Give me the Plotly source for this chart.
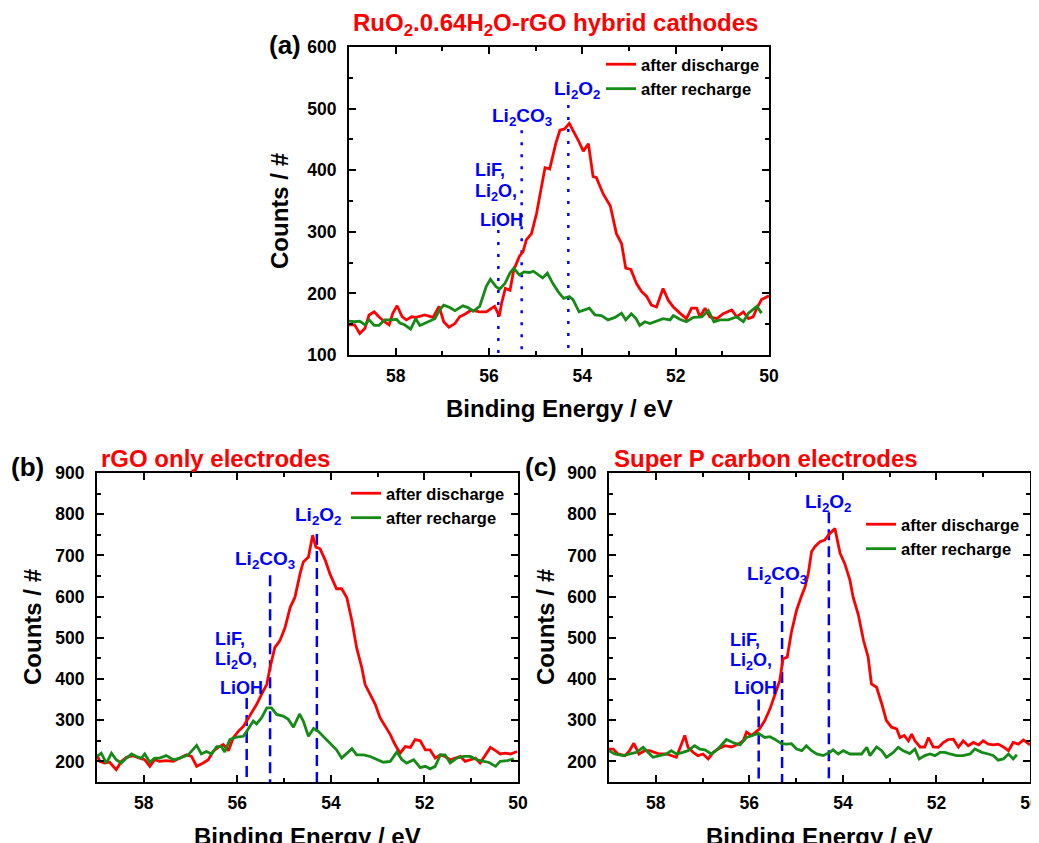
import plotly.graph_objects as go

# ---------------- data ----------------
# Panel (a) RuO2.0.64H2O-rGO
a_dis_x = [59.00,58.88,58.77,58.66,58.57,58.46,58.36,58.24,58.14,58.06,57.97,57.86,57.77,57.66,57.56,57.38,57.20,57.07,56.97,56.86,56.73,56.63,56.50,56.38,56.20,56.06,55.88,55.78,55.73,55.65,55.55,55.47,55.35,55.27,55.20,55.09,54.98,54.88,54.80,54.70,54.57,54.48,54.38,54.28,54.20,54.09,53.98,53.87,53.77,53.70,53.55,53.40,53.27,53.16,53.07,52.96,52.84,52.73,52.62,52.52,52.41,52.27,52.16,52.05,51.91,51.77,51.66,51.55,51.48,51.37,51.27,51.12,50.98,50.80,50.69,50.55,50.44,50.34,50.26,50.16,50.00]
a_dis_y = [149,149,135,143,165,170,162,154,149,168,180,162,157,162,161,165,161,179,154,145,151,162,167,173,170,170,179,163,184,208,205,238,260,268,287,297,330,373,404,402,443,465,467,476,465,449,431,443,390,388,361,342,297,281,241,239,216,203,195,181,178,208,189,178,168,159,176,176,162,176,162,159,167,173,162,170,159,162,176,190,196]
a_rec_x = [59.00,58.88,58.77,58.66,58.57,58.46,58.36,58.24,58.09,57.98,57.91,57.81,57.68,57.57,57.48,57.34,57.16,57.06,56.97,56.84,56.73,56.56,56.45,56.34,56.20,56.06,55.97,55.85,55.77,55.66,55.55,55.47,55.35,55.25,55.13,55.05,54.95,54.85,54.75,54.63,54.52,54.40,54.28,54.20,54.07,53.95,53.85,53.73,53.59,53.45,53.30,53.16,53.07,52.95,52.85,52.77,52.66,52.55,52.41,52.27,52.12,52.05,51.91,51.77,51.62,51.44,51.30,51.18,51.05,50.87,50.69,50.55,50.44,50.34,50.26,50.16]
a_rec_y = [155,154,155,149,157,148,148,157,157,158,152,149,142,159,148,153,159,173,181,177,172,180,177,171,179,211,223,211,207,216,233,241,230,235,234,236,230,225,233,216,203,192,195,190,170,173,176,165,164,157,161,168,157,167,159,148,154,151,155,159,157,164,158,154,161,162,172,154,157,157,162,154,168,174,179,168]

# Panel (b) rGO only
b_dis_x = [59.00,58.94,58.84,58.73,58.59,58.48,58.37,58.23,58.09,57.98,57.87,57.77,57.66,57.52,57.37,57.23,57.09,56.98,56.87,56.73,56.62,56.52,56.41,56.30,56.19,56.09,55.98,55.87,55.80,55.70,55.59,55.48,55.37,55.30,55.20,55.09,54.98,54.87,54.77,54.66,54.59,54.48,54.39,54.32,54.23,54.12,54.02,53.88,53.77,53.66,53.55,53.45,53.34,53.27,53.16,53.05,52.95,52.84,52.73,52.63,52.52,52.41,52.30,52.20,52.09,51.98,51.88,51.77,51.66,51.56,51.45,51.34,51.23,51.13,51.02,50.91,50.81,50.70,50.59,50.48,50.38,50.27,50.16,50.02]
b_dis_y = [216,200,196,198,180,200,210,214,208,204,188,204,200,202,200,208,216,212,188,196,204,224,234,241,226,257,273,285,298,318,338,363,387,428,476,493,525,574,598,655,684,696,749,720,716,688,655,619,619,598,541,476,428,387,363,338,306,285,265,241,220,236,234,253,250,228,228,208,216,212,204,208,212,200,204,208,196,216,234,226,218,220,218,224]
b_rec_x = [59.00,58.91,58.80,58.69,58.59,58.48,58.37,58.26,58.16,58.05,57.98,57.87,57.77,57.66,57.52,57.37,57.23,57.05,56.87,56.77,56.66,56.55,56.44,56.34,56.27,56.16,56.02,55.87,55.80,55.66,55.59,55.48,55.37,55.27,55.16,55.02,54.91,54.80,54.67,54.59,54.48,54.37,54.27,54.16,54.02,53.88,53.77,53.66,53.55,53.45,53.30,53.16,53.02,52.88,52.73,52.59,52.48,52.38,52.23,52.09,51.98,51.88,51.77,51.66,51.56,51.45,51.31,51.16,51.02,50.88,50.73,50.63,50.48,50.38,50.23,50.09]
b_rec_y = [212,220,196,220,204,196,208,218,212,208,218,198,208,208,214,204,208,216,239,218,224,218,236,236,223,253,259,261,273,298,291,306,330,330,314,310,302,283,315,298,261,280,273,261,245,228,208,220,231,216,216,212,204,198,200,223,204,196,204,185,188,182,188,216,216,196,208,212,212,204,200,198,188,200,202,206]

# Panel (c) Super P carbon
c_dis_x = [59.00,58.91,58.81,58.66,58.56,58.47,58.36,58.24,58.13,58.02,57.92,57.77,57.67,57.56,57.45,57.38,57.31,57.20,57.10,56.99,56.88,56.77,56.67,56.52,56.38,56.24,56.13,56.06,55.95,55.85,55.78,55.67,55.56,55.46,55.35,55.28,55.19,55.10,54.99,54.88,54.81,54.74,54.67,54.60,54.49,54.39,54.28,54.17,54.06,53.96,53.85,53.78,53.67,53.56,53.46,53.39,53.28,53.17,53.07,52.96,52.85,52.78,52.69,52.60,52.53,52.46,52.35,52.25,52.17,52.07,51.96,51.85,51.75,51.64,51.53,51.43,51.32,51.21,51.10,51.00,50.89,50.78,50.68,50.57,50.46,50.36,50.25,50.14,50.00]
c_dis_y = [230,230,218,214,226,244,218,226,226,222,218,218,214,210,242,263,234,222,214,218,206,222,230,238,235,242,250,271,263,273,279,299,327,360,396,449,453,514,567,603,623,656,709,721,733,737,753,765,705,680,640,598,556,494,453,388,380,340,299,283,279,258,263,250,266,250,235,235,258,235,234,246,253,254,235,250,238,246,240,250,242,240,242,235,226,246,242,252,240]
c_rec_x = [59.00,58.88,58.70,58.56,58.42,58.27,58.17,58.06,57.92,57.77,57.67,57.56,57.42,57.31,57.17,57.06,56.95,56.81,56.67,56.49,56.35,56.20,56.06,55.92,55.81,55.67,55.56,55.46,55.31,55.21,55.10,54.99,54.88,54.78,54.67,54.56,54.42,54.28,54.21,54.10,53.99,53.85,53.71,53.60,53.49,53.42,53.28,53.17,53.07,52.92,52.82,52.71,52.57,52.46,52.37,52.25,52.14,52.03,51.92,51.82,51.71,51.57,51.43,51.28,51.18,51.03,50.89,50.78,50.68,50.57,50.46,50.36,50.28]
c_rec_y = [226,218,214,218,222,234,222,210,214,218,226,218,222,226,238,230,228,218,230,253,246,240,258,263,268,258,260,254,243,242,243,230,226,238,226,218,214,222,228,218,226,218,219,218,234,214,235,226,210,222,234,226,219,230,206,214,218,214,222,222,218,214,214,218,230,222,218,214,203,206,218,206,216]

# reference peak positions (eV) and line heights
ref_pos = [55.8, 55.3, 54.3]
a_line_top = [303, 465, 506]
b_line_top = [354, 652, 752]
c_line_top = [350, 623, 805]

x_ticks = [58, 56, 54, 52, 50]
a_y_range = [100, 600]
bc_y_range = [150, 900]

RED = "#ff0000"
GREEN = "#168a16"
BLUE = "#0000ff"
FONT = "Liberation Sans"

# page is 1039x843; the html body adds an 8px margin, so the figure is 8px smaller
OFF = 8
W, H = 1039 - OFF, 843 - OFF
def px_x(p):
    return (p - OFF) / W
def px_y(p):
    return 1 - (p - OFF) / H

fig = go.Figure()

panels = [
    dict(xa="x", ya="y", leg="legend", dis=(a_dis_x, a_dis_y), rec=(a_rec_x, a_rec_y),
         tops=a_line_top, yb=a_y_range[0], dash="3px,9px"),
    dict(xa="x2", ya="y2", leg="legend2", dis=(b_dis_x, b_dis_y), rec=(b_rec_x, b_rec_y),
         tops=b_line_top, yb=bc_y_range[0], dash="11px,6px"),
    dict(xa="x3", ya="y3", leg="legend3", dis=(c_dis_x, c_dis_y), rec=(c_rec_x, c_rec_y),
         tops=c_line_top, yb=bc_y_range[0], dash="11px,6px"),
]

for p in panels:
    for pos, top in zip(ref_pos, p["tops"]):
        fig.add_trace(go.Scatter(x=[pos, pos], y=[top, p["yb"]], mode="lines",
                                 line=dict(color=BLUE, width=2.5, dash=p["dash"]),
                                 xaxis=p["xa"], yaxis=p["ya"], showlegend=False, hoverinfo="skip"))
    fig.add_trace(go.Scatter(x=p["dis"][0], y=p["dis"][1], mode="lines", name="after discharge",
                             line=dict(color=RED, width=2.8), xaxis=p["xa"], yaxis=p["ya"], legend=p["leg"]))
    fig.add_trace(go.Scatter(x=p["rec"][0], y=p["rec"][1], mode="lines", name="after recharge",
                             line=dict(color=GREEN, width=2.8), xaxis=p["xa"], yaxis=p["ya"], legend=p["leg"]))

tickfont = dict(family=FONT, size=17.5, color="black", weight="bold")

def xaxis(dom, anchor):
    return dict(domain=dom, anchor=anchor, range=[59, 50], tickvals=x_ticks,
                showline=True, linecolor="black", linewidth=2, mirror="ticks",
                ticks="inside", ticklen=7, tickwidth=2, tickcolor="black",
                minor=dict(ticks="inside", ticklen=4, tickwidth=2, tickcolor="black", dtick=1, tick0=50),
                showgrid=False, zeroline=False, tickfont=tickfont, ticklabelstandoff=4,
                ticklabeloverflow="allow", automargin=False)

def yaxis(dom, anchor, rng):
    return dict(domain=dom, anchor=anchor, range=rng, dtick=100, tick0=0,
                showline=True, linecolor="black", linewidth=2, mirror="ticks",
                ticks="inside", ticklen=7, tickwidth=2, tickcolor="black",
                minor=dict(ticks="inside", ticklen=4, tickwidth=2, tickcolor="black", dtick=50, tick0=0),
                showgrid=False, zeroline=False, tickfont=tickfont, ticklabelstandoff=7,
                ticklabeloverflow="allow", automargin=False)

a_xd = [px_x(349), px_x(769)]; a_yd = [px_y(355), px_y(47)]
b_xd = [px_x(97), px_x(518)];  b_yd = [px_y(782), px_y(473)]
c_xd = [px_x(609), px_x(1030)]; c_yd = b_yd

legfont = dict(family=FONT, size=16.5, color="black", weight="bold")
def legend(x, y):
    return dict(x=x, y=y, xanchor="left", yanchor="top", xref="paper", yref="paper",
                bgcolor="rgba(0,0,0,0)", font=legfont, itemwidth=30, tracegroupgap=0)

fig.update_layout(
    width=W, height=H, margin=dict(l=0, r=0, t=0, b=0, pad=0, autoexpand=False),
    paper_bgcolor="white", plot_bgcolor="white",
    xaxis=xaxis(a_xd, "y"), yaxis=yaxis(a_yd, "x", a_y_range),
    xaxis2=xaxis(b_xd, "y2"), yaxis2=yaxis(b_yd, "x2", bc_y_range),
    xaxis3=xaxis(c_xd, "y3"), yaxis3=yaxis(c_yd, "x3", bc_y_range),
    legend=legend(px_x(601), px_y(47)),
    legend2=legend(px_x(346), px_y(476)),
    legend3=legend(px_x(861), px_y(507)),
    showlegend=True,
)

ann = []
def text(x, y, t, size=22, color="black", xref="paper", yref="paper", xanchor="center", angle=0):
    ann.append(dict(x=x, y=y, xref=xref, yref=yref, text=t, showarrow=False, textangle=angle,
                    xanchor=xanchor, yanchor="middle",
                    font=dict(family=FONT, size=size, color=color, weight="bold")))

# panel letters and titles
text(px_x(285), px_y(45), "(a)", size=26)
text(px_x(27), px_y(467), "(b)", size=26)
text(px_x(541), px_y(467), "(c)", size=26)
text(px_x(351), px_y(25), "RuO<sub>2</sub>.0.64H<sub>2</sub>O-rGO hybrid cathodes", size=24, color=RED, xanchor="left")
text(px_x(99), px_y(459), "rGO only electrodes", size=24, color=RED, xanchor="left")
text(px_x(612), px_y(459), "Super P carbon electrodes", size=24, color=RED, xanchor="left")

# axis titles
text(px_x(559), px_y(408), "Binding Energy / eV", size=24)
text(px_x(307), px_y(836), "Binding Energy / eV", size=24)
text(px_x(819), px_y(836), "Binding Energy / eV", size=24)
text(px_x(279), px_y(211), "Counts / #", size=24, angle=-90)
text(px_x(32), px_y(627), "Counts / #", size=24, angle=-90)
text(px_x(545), px_y(627), "Counts / #", size=24, angle=-90)

# species labels (data coordinates)
labels = [
    ("x", "y", [(54.12, 530, "Li<sub>2</sub>O<sub>2</sub>", "center", 19),
                (55.30, 486, "Li<sub>2</sub>CO<sub>3</sub>", "center", 19),
                (56.34, 400, "LiF,", "left", 18),
                (56.34, 363, "Li<sub>2</sub>O,", "left", 18),
                (56.24, 319, "LiOH", "left", 18)]),
    ("x2", "y2", [(54.28, 796, "Li<sub>2</sub>O<sub>2</sub>", "center", 19),
                  (55.41, 689, "Li<sub>2</sub>CO<sub>3</sub>", "center", 19),
                  (56.52, 497, "LiF,", "left", 18),
                  (56.52, 444, "Li<sub>2</sub>O,", "left", 18),
                  (56.41, 378, "LiOH", "left", 18)]),
    ("x3", "y3", [(54.32, 827, "Li<sub>2</sub>O<sub>2</sub>", "center", 19),
                  (55.41, 652, "Li<sub>2</sub>CO<sub>3</sub>", "center", 19),
                  (56.46, 495, "LiF,", "left", 18),
                  (56.46, 442, "Li<sub>2</sub>O,", "left", 18),
                  (56.37, 378, "LiOH", "left", 18)]),
]
for xr, yr, items in labels:
    for x, y, t, anc, sz in items:
        text(x, y, t, size=sz, color=BLUE, xref=xr, yref=yr, xanchor=anc)

fig.update_layout(annotations=ann)
fig.write_html("out.html")
